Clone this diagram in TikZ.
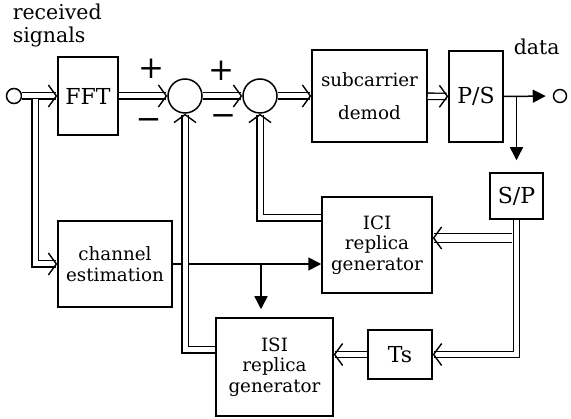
\documentclass[tikz,border=0pt]{standalone}
\usepackage{fontspec}
\setmainfont{DejaVu Serif}
\usetikzlibrary{arrows.meta}
\begin{document}
\begin{tikzpicture}[x=1pt,y=-1pt,line width=1.5pt,
  blk/.style={draw,rectangle,inner sep=0pt,align=center,font=\fontsize{18.3}{20.5}\selectfont},
  bigblk/.style={blk,font=\fontsize{22}{22}\selectfont},
  sumnode/.style={draw,circle,minimum size=34pt,inner sep=0pt},
  port/.style={draw,circle,minimum size=15pt,inner sep=0pt},
  lbl/.style={font=\fontsize{20.5}{23}\selectfont,inner sep=0pt},
  sgn/.style={font=\fontsize{31}{31}\selectfont,inner sep=0pt},
  dbl/.style={draw,double,double distance=5pt,line width=1.3pt,
    -{Straight Barb[length=8pt,width=22pt,line width=1.4pt]}},
  dblw/.style={dbl,double distance=8pt},
  sarr/.style={draw,line width=1.5pt,-{Triangle[length=13pt,width=13pt]}}]
\useasboundingbox (0,0) rectangle (571,419);
% nodes
\node[port] (in) at (14,96) {};
\node[bigblk,minimum width=60pt,minimum height=78pt] (fft) at (88,96) {FFT};
\node[sumnode] (s1) at (185,96) {};
\node[sumnode] (s2) at (260,96) {};
\node[blk,minimum width=115pt,minimum height=92pt] (dem) at (369.5,96) {subcarrier\\[12pt]demod};
\node[bigblk,minimum width=54pt,minimum height=91pt] (ps) at (476,96.5) {P/S};
\node[port,minimum size=13pt] (out) at (560,96) {};
\node[bigblk,minimum width=53pt,minimum height=46pt] (sp) at (516.5,196) {S/P};
\node[blk,minimum width=110pt,minimum height=96pt] (ici) at (377,245) {ICI\\replica\\generator};
\node[bigblk,minimum width=64pt,minimum height=49pt] (ts) at (400,354.5) {Ts};
\node[blk,minimum width=117pt,minimum height=98pt] (isi) at (274.5,367) {ISI\\replica\\generator};
\node[blk,minimum width=114pt,minimum height=86pt] (ch) at (115,264) {channel\\estimation};
% labels
\node[lbl,anchor=north west,align=left] (rx) at (12,3) {received\\signals};
\node[lbl,anchor=base west] (dt) at (513,55) {data};
\node[sgn] (p1) at (151,69) {+};
\node[sgn] (m1) at (148.5,124) {−};
\node[sgn] (p2) at (221,71) {+};
\node[sgn] (m2) at (223,120) {−};
% coordinates
\coordinate (inb) at (35,99);
\coordinate (br) at (sp.north |- ps.east);
\coordinate (cb) at (261,264);
\coordinate (icin) at ([yshift=7pt]ici.east);
\coordinate (spd) at ([xshift=-5pt]sp.south);
\coordinate (icout) at ([yshift=27pt]ici.west);
\coordinate (isout) at ([yshift=17pt]isi.west);
% main path
\draw[dbl] (in) -- (fft);
\draw[dbl] (fft) -- (s1);
\draw[dbl] (s1) -- (s2);
\draw[dbl] (s2) -- (dem);
\draw[dbl] (dem) -- (ps);
\draw[sarr,shorten >=7pt] (ps.east) -- (out.west);
\draw[sarr,shorten >=12pt] (br) -- (sp.north);
% S/P feedback
\draw[dblw] (spd |- icin) -- (icin);
\draw[dbl] (sp.south) |- (ts.east);
\draw[dbl] (ts.west) -- (ts.west -| isi.east);
% channel estimation
\draw[dbl] (inb) |- (ch.west);
\draw[sarr] (ch.east) -- (ch.east -| ici.west);
\draw[sarr,shorten >=8pt] (cb) -- (cb |- isi.north);
% replica feedback
\draw[dbl] (icout) -| (s2.south);
\draw[dbl] (isout) -| (s1.south);
\end{tikzpicture}
\end{document}
